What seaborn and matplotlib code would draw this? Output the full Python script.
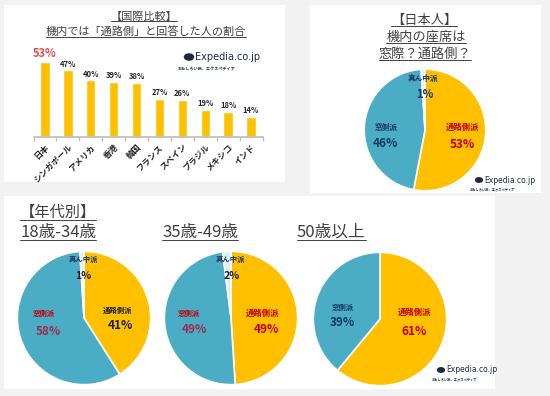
import matplotlib
matplotlib.use('Agg')
import matplotlib.pyplot as plt
import seaborn as sns
from matplotlib.patches import Rectangle, Circle
from matplotlib.lines import Line2D

# data
countries = ['日本', 'シンガポール', 'アメリカ', '香港', '韓国',
             'フランス', 'スペイン', 'ブラジル', 'メキシコ', 'インド']
aisle_pct = [53, 47, 40, 39, 38, 27, 26, 19, 18, 14]

seat_labels = ['通路側派', '窓側派', '真ん中派']
japan_pct = [53, 46, 1]
age_18_34 = [41, 58, 1]
age_35_49 = [49, 49, 2]
age_50_up = [61, 39]

ORANGE = '#FFC000'
BLUE = '#4BACC6'
LIGHT = '#DAEEF3'
RED = '#C00000'
NAVY = '#17375E'
GRAY_TXT = '#404040'

sns.set_theme(style='white')
plt.rcParams['font.family'] = ['Noto Sans CJK JP', 'DejaVu Sans']

W, H = 550, 396
fig = plt.figure(figsize=(5.5, 3.96), dpi=100)
fig.patch.set_facecolor('#F2F2F2')


def fx(x):
    return x / W


def fy(y):
    return 1 - y / H


def rect(l, t, r, b):
    return [fx(l), fy(b), (r - l) / W, (b - t) / H]


# white panels
for l, t, r, b in [(4, 5, 285, 182), (310, 5, 541, 193), (4, 196, 495, 389)]:
    fig.add_artist(Rectangle((fx(l), fy(b)), (r - l) / W, (b - t) / H,
                             transform=fig.transFigure, facecolor='white',
                             edgecolor='none', zorder=0))

titles = []


def title(x, y, s, size, ha='center'):
    t = fig.text(fx(x), fy(y), s, ha=ha, va='center', fontsize=size,
                 color=GRAY_TXT)
    titles.append(t)


def logo(x, y, size):
    fig.add_artist(Circle((fx(x), fy(y)), size * 0.75 / W, transform=fig.transFigure,
                          facecolor='#1B2A47', edgecolor='none'))
    fig.text(fx(x + size * 0.9), fy(y), 'Expedia.co.jp', ha='left', va='center',
             fontsize=size, color='#1B2A47', family='DejaVu Sans')
    fig.text(fx(x + size * 6.6), fy(y + size * 1.7), 'おもしろい旅、エクスペディア',
             ha='right', va='center', fontsize=size * 0.42, color='#1B2A47',
             fontweight='bold')


# bar chart: international comparison
title(144, 17, '【国際比較】', 8)
title(146, 32, '機内では「通路側」と回答した人の割合', 8)

ax = fig.add_axes(rect(33.5, 52, 262.5, 137))
sns.barplot(x=countries, y=aisle_pct, color=ORANGE, saturation=1, width=0.41, ax=ax)
ax.set_ylim(0, 60)
ax.set_xlim(-0.5, len(countries) - 0.5)
ax.set_facecolor('none')
for s in ['top', 'right', 'left']:
    ax.spines[s].set_visible(False)
ax.spines['bottom'].set_color('#BFBFBF')
ax.set_yticks([])
ax.set_xticks(range(len(countries)))
ax.set_xticklabels(countries, rotation=45, ha='right', rotation_mode='anchor',
                   fontsize=6, fontweight='bold', color='#262626')
ax.set_xticks([i - 0.5 for i in range(len(countries) + 1)], minor=True)
ax.tick_params(axis='x', which='major', length=0, pad=4)
ax.tick_params(axis='x', which='minor', length=3, color='#BFBFBF', bottom=True)
ax.set_xlabel('')
ax.set_ylabel('')
for i, v in enumerate(aisle_pct):
    if i == 0:
        ax.text(i, v + 1.2, f'{v}%', ha='center', va='bottom', fontsize=8,
                fontweight='bold', color='#D9534F')
    else:
        ax.text(i, v + 1.2, f'{v}%', ha='center', va='bottom', fontsize=5.5,
                fontweight='bold', color='#262626')
logo(189, 57, 7)


def pie(cx, cy, r, values, colors, labels):
    pa = fig.add_axes(rect(cx - r, cy - r, cx + r, cy + r))
    pa.pie(values, colors=colors, startangle=90, counterclock=False,
           wedgeprops=dict(edgecolor='white', linewidth=1.2))
    pa.set_xlim(-1.02, 1.02)
    pa.set_ylim(-1.02, 1.02)
    pa.set_aspect('equal')
    pa.axis('off')
    for dx, dy, s, size, col in labels:
        pa.text(dx / r, -dy / r, s, ha='center', va='center', fontsize=size,
                fontweight='bold', color=col)
    return pa


# Japanese respondents
title(424, 20, '【日本人】', 9.5)
title(426, 37, '機内の座席は', 9.5)
title(425, 54, '窓際？通路側？', 9.5)
pie(425, 130, 62, japan_pct, [ORANGE, BLUE, LIGHT], [
    (-2, -53, seat_labels[2], 5.5, NAVY),
    (0, -36, f'{japan_pct[2]}%', 8, NAVY),
    (-40, -3, seat_labels[1], 5.5, NAVY),
    (-40, 14, f'{japan_pct[1]}%', 8.5, NAVY),
    (38, -3, seat_labels[0], 6, RED),
    (38, 15, f'{japan_pct[0]}%', 8.5, RED),
])
logo(479, 180, 5.5)

# by age
title(20, 212, '【年代別】', 11, ha='left')
title(20, 232, '18歳-34歳', 12, ha='left')
title(162, 232, '35歳-49歳', 12, ha='left')
title(297, 232, '50歳以上', 12, ha='left')

pie(84, 318, 68, age_18_34, [ORANGE, BLUE, LIGHT], [
    (-1, -60, seat_labels[2], 5.3, NAVY),
    (-1, -43, f'{age_18_34[2]}%', 7.5, '#202020'),
    (-41, -5, seat_labels[1], 5.3, RED),
    (-36, 14, f'{age_18_34[1]}%', 8.5, '#9B2D50'),
    (34, -8, seat_labels[0], 5.3, '#202020'),
    (37, 8, f'{age_18_34[0]}%', 8.5, '#202020'),
])
pie(231, 318, 68, age_35_49, [ORANGE, BLUE, LIGHT], [
    (-1, -60, seat_labels[2], 5.3, NAVY),
    (1, -43, f'{age_35_49[2]}%', 7.5, '#202020'),
    (-43, -5, seat_labels[1], 5.3, RED),
    (-37, 12, f'{age_35_49[1]}%', 8.5, '#9B2D50'),
    (32, -5, seat_labels[0], 6, RED),
    (36, 12, f'{age_35_49[0]}%', 8.5, RED),
])
pie(380, 319, 68, age_50_up, [ORANGE, BLUE], [
    (-38, -12, seat_labels[1], 5.3, NAVY),
    (-38, 4, f'{age_50_up[1]}%', 8.5, NAVY),
    (35, -7, seat_labels[0], 6, RED),
    (35, 13, f'{age_50_up[0]}%', 8.5, RED),
])
logo(441, 370, 5.5)

# underline the titles
fig.canvas.draw()
rend = fig.canvas.get_renderer()
inv = fig.transFigure.inverted()
for t in titles:
    bb = t.get_window_extent(rend).transformed(inv)
    fig.add_artist(Line2D([bb.x0, bb.x1], [bb.y0 + 0.002, bb.y0 + 0.002],
                          transform=fig.transFigure, color=GRAY_TXT, linewidth=0.7))

fig.savefig('out.png', dpi=100, facecolor=fig.get_facecolor())
